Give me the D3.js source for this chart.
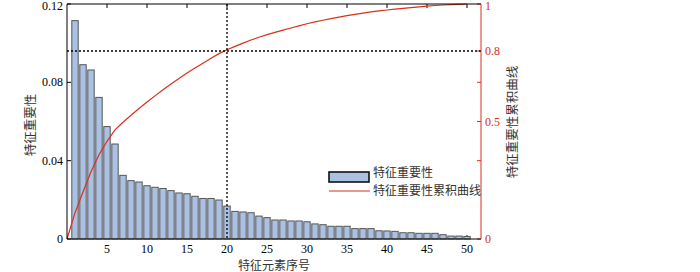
<!DOCTYPE html>
<html>
  <head>
    <meta charset="utf-8">
    <title>特征重要性</title>
    <style>
      body { margin: 0; background: white; }
      .tick-label { font-family: "Liberation Serif", serif; font-size: 12px; }
      .cjk { font-family: "Noto Sans CJK SC", sans-serif; font-size: 12.5px; fill: #333; }
      .bar { fill: #aac1e3; stroke: #555; stroke-width: 1; }
      .guide { stroke: black; stroke-width: 1.3; stroke-dasharray: 2 2; }
    </style>
  </head>
  <body>
    <svg width="700" height="272"></svg>
    <script src="https://d3js.org/d3.v7.min.js"></script>
    <script type="application/javascript">
      // feature importance, features 1..50
      const importance = [
        0.1115, 0.0890, 0.0863, 0.0723, 0.0574, 0.0485, 0.0325, 0.0298, 0.0291, 0.0272,
        0.0264, 0.0258, 0.0247, 0.0235, 0.0231, 0.0218, 0.0207, 0.0207, 0.0199, 0.0168,
        0.0141, 0.0138, 0.0134, 0.0117, 0.0109, 0.0097, 0.0097, 0.0092, 0.0092, 0.0088,
        0.0077, 0.0073, 0.0065, 0.0065, 0.0065, 0.0053, 0.0053, 0.0053, 0.0042, 0.0041,
        0.0039, 0.0032, 0.0032, 0.0029, 0.0029, 0.0029, 0.0022, 0.0015, 0.0015, 0.0013
      ];
      const xTicks = [5, 10, 15, 20, 25, 30, 35, 40, 45, 50];
      const leftTicks = [0, 0.04, 0.08, 0.12];
      const leftTickLabels = ['0', '0.04', '0.08', '0.12'];
      const rightTicks = [0, 1 / 3, 0.5, 2 / 3, 0.8, 1];
      const rightTickLabels = ['0', '', '0.5', '', '0.8', '1'];
      const cutIndex = 20;
      const cutLevel = 0.8;

      const red = '#d9301c';
      const svg = d3.select('svg');
      const plotL = 67, plotR = 481, plotT = 4, plotB = 239;

      const x = d3.scaleLinear().domain([0, 51.75]).range([plotL, plotR]);
      const yL = d3.scaleLinear().domain([0, 0.12]).range([plotB, plotT]);
      const yR = d3.scaleLinear().domain([0, 1]).range([plotB, plotT]);

      const cumulative = [0].concat(Array.from(d3.cumsum(importance)));
      const total = cumulative[cumulative.length - 1];

      // inward ticks (drawn under the data)
      const axes = svg.append('g');
      axes.selectAll('.bt').data(xTicks).enter().append('line')
        .attr('x1', d => x(d)).attr('x2', d => x(d))
        .attr('y1', plotB).attr('y2', plotB - 4).attr('stroke', 'black');
      axes.selectAll('.tt').data(xTicks).enter().append('line')
        .attr('x1', d => x(d)).attr('x2', d => x(d))
        .attr('y1', plotT).attr('y2', plotT + 4).attr('stroke', 'black');
      axes.selectAll('.lt').data(leftTicks).enter().append('line')
        .attr('x1', plotL).attr('x2', plotL + 4)
        .attr('y1', d => yL(d)).attr('y2', d => yL(d)).attr('stroke', 'black');
      axes.selectAll('.rt').data(rightTicks).enter().append('line')
        .attr('x1', plotR).attr('x2', plotR - 4)
        .attr('y1', d => yR(d)).attr('y2', d => yR(d)).attr('stroke', red);

      // bars
      const barW = x(0.8) - x(0);
      svg.append('g')
        .selectAll('rect')
        .data(importance)
        .enter()
          .append('rect')
          .attr('class', 'bar')
          .attr('x', (d, i) => x(i + 1) - barW / 2)
          .attr('y', d => yL(d))
          .attr('width', barW)
          .attr('height', d => yL(0) - yL(d));

      // cumulative curve
      const line = d3.line()
        .x((d, i) => x(i))
        .y(d => yR(d / total));
      svg.append('path')
        .datum(cumulative)
        .attr('d', line)
        .attr('fill', 'none')
        .attr('stroke', red)
        .attr('stroke-width', 1.2);

      // guide lines
      svg.append('line').attr('class', 'guide')
        .attr('x1', plotL).attr('x2', plotR)
        .attr('y1', yR(cutLevel)).attr('y2', yR(cutLevel));
      svg.append('line').attr('class', 'guide')
        .attr('x1', x(cutIndex)).attr('x2', x(cutIndex))
        .attr('y1', plotT).attr('y2', plotB);

      // frame
      svg.append('line').attr('x1', plotL).attr('x2', plotR).attr('y1', plotT).attr('y2', plotT)
        .attr('stroke', 'black');
      svg.append('line').attr('x1', plotL).attr('x2', plotR).attr('y1', plotB).attr('y2', plotB)
        .attr('stroke', 'black');
      svg.append('line').attr('x1', plotL).attr('x2', plotL).attr('y1', plotT).attr('y2', plotB)
        .attr('stroke', 'black');
      svg.append('line').attr('x1', plotR).attr('x2', plotR).attr('y1', plotT).attr('y2', plotB)
        .attr('stroke', red);

      // tick labels
      svg.append('g').selectAll('text').data(xTicks).enter().append('text')
        .attr('class', 'tick-label')
        .attr('x', d => x(d)).attr('y', 253)
        .attr('text-anchor', 'middle')
        .text(d => d);
      svg.append('g').selectAll('text').data(leftTicks).enter().append('text')
        .attr('class', 'tick-label')
        .attr('x', 63).attr('y', d => Math.max(yL(d) + 4, 10))
        .attr('text-anchor', 'end')
        .text((d, i) => leftTickLabels[i]);
      svg.append('g').selectAll('text').data(rightTicks).enter().append('text')
        .attr('class', 'tick-label')
        .attr('x', 485).attr('y', d => Math.max(yR(d) + 4, 10))
        .attr('fill', red)
        .text((d, i) => rightTickLabels[i]);

      // axis titles
      svg.append('text').attr('class', 'cjk')
        .attr('x', (plotL + plotR) / 2).attr('y', 269.5)
        .attr('text-anchor', 'middle')
        .style('font-size', '12px')
        .text('特征元素序号');
      svg.append('text').attr('class', 'cjk')
        .attr('transform', 'translate(35,125) rotate(-90)')
        .attr('text-anchor', 'middle')
        .text('特征重要性');
      svg.append('text').attr('class', 'cjk')
        .attr('transform', 'translate(517,122) rotate(-90)')
        .attr('text-anchor', 'middle')
        .text('特征重要性累积曲线');

      // legend
      const legend = svg.append('g');
      legend.append('rect')
        .attr('x', 329).attr('y', 172).attr('width', 40).attr('height', 10)
        .attr('fill', '#aac1e3').attr('stroke', '#111').attr('stroke-width', 1.6);
      legend.append('line')
        .attr('x1', 329).attr('x2', 370).attr('y1', 191).attr('y2', 191)
        .attr('stroke', red).attr('stroke-width', 1.2);
      legend.append('text').attr('class', 'cjk')
        .attr('x', 373).attr('y', 177).style('font-size', '12px')
        .text('特征重要性');
      legend.append('text').attr('class', 'cjk')
        .attr('x', 373).attr('y', 195).style('font-size', '12px')
        .text('特征重要性累积曲线');
    </script>
  </body>
</html>
